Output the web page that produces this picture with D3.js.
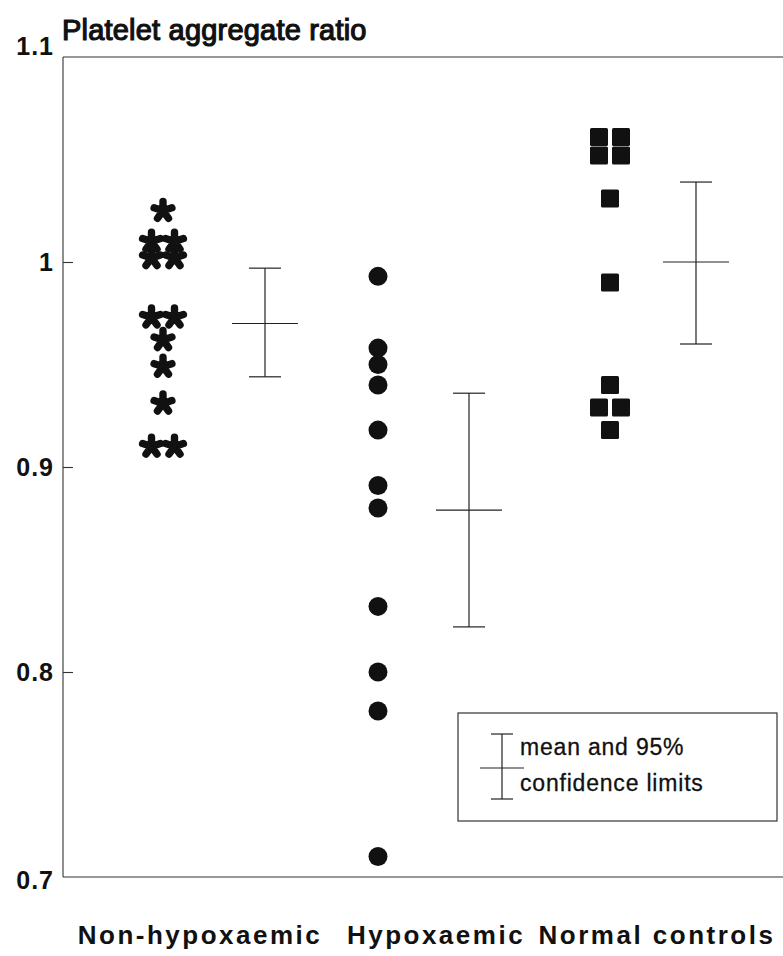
<!DOCTYPE html>
<html>
<head>
<meta charset="utf-8">
<script src="https://cdn.jsdelivr.net/npm/d3@7"></script>
<style>
  html, body { margin: 0; padding: 0; background: #fff; }
  svg { display: block; font-family: "Liberation Sans", Arial, Helvetica, sans-serif; }
</style>
</head>
<body>
<svg id="chart" width="783" height="956"></svg>
<script>
// ---- data ----
const categories = ["Non-hypoxaemic", "Hypoxaemic", "Normal controls"];
const nonHypoxaemic = [1.025, 1.010, 1.010, 1.002, 1.002, 0.973, 0.973, 0.962, 0.949, 0.931, 0.910, 0.910];
const hypoxaemic = [0.993, 0.958, 0.950, 0.940, 0.918, 0.891, 0.880, 0.832, 0.800, 0.781, 0.710];
const normalControls = [1.061, 1.061, 1.052, 1.052, 1.031, 0.990, 0.940, 0.929, 0.929, 0.918];
const ciMean = [0.970, 0.879, 1.000];
const ciLow = [0.944, 0.822, 0.960];
const ciHigh = [0.997, 0.936, 1.039];
const yTicks = [0.7, 0.8, 0.9, 1.0, 1.1];
const titleText = "Platelet aggregate ratio";
const legendLines = ["mean and 95%", "confidence limits"];

// ---- layout ----
const plotL = 63, plotT = 57, plotB = 877, plotR = 783;
const svg = d3.select("#chart");

const y = d3.scaleLinear().domain([0.7, 1.1]).range([plotB, plotT]);
const xPts = d3.scaleOrdinal().domain(categories).range([163, 378, 610]);
const xCI = d3.scaleOrdinal().domain(categories).range([265, 469, 696]);
const xLab = d3.scaleOrdinal().domain(categories).range([200, 436, 657]);

const ink = "#111";

// frame
svg.append("line").attr("x1", plotL).attr("x2", plotL).attr("y1", plotT).attr("y2", plotB)
  .attr("stroke", "#333").attr("stroke-width", 1.1);
svg.append("line").attr("x1", plotL).attr("x2", plotR).attr("y1", plotT).attr("y2", plotT)
  .attr("stroke", "#333").attr("stroke-width", 1.1);
svg.append("line").attr("x1", plotL).attr("x2", plotR).attr("y1", plotB).attr("y2", plotB)
  .attr("stroke", "#333").attr("stroke-width", 1.1);

// axis
const axis = d3.axisLeft(y).tickValues(yTicks).tickSize(-10).tickPadding(9)
  .tickFormat(d => d === 1 ? "1" : d3.format(".1f")(d));
const ag = svg.append("g").attr("transform", `translate(${plotL},0)`).call(axis);
ag.select(".domain").remove();
ag.selectAll(".tick line").attr("stroke", "#333").attr("stroke-width", 1.1);
ag.selectAll(".tick text")
  .attr("fill", ink).attr("font-size", 25).attr("font-weight", "bold")
  .attr("letter-spacing", 1)
  .attr("dy", d => d === 1.1 ? "-0.1em" : (d === 0.7 ? "0.45em" : "0.35em"));
ag.selectAll(".tick").filter(d => d === 1.1 || d === 0.7).select("line").remove();

// title
svg.append("text").attr("x", 62).attr("y", 40).text(titleText)
  .attr("font-size", 29).attr("fill", ink)
  .attr("stroke", ink).attr("stroke-width", 1.2)
  .attr("letter-spacing", 0.2);

// grouping offsets for duplicates
function withOffsets(vals, spacing) {
  const counts = d3.rollup(vals, v => v.length, v => v);
  const seen = new Map();
  return vals.map(v => {
    const n = counts.get(v);
    const i = seen.get(v) || 0;
    seen.set(v, i + 1);
    return { v, dx: (i - (n - 1) / 2) * spacing };
  });
}

// star symbol: 5-arm asterisk
const starType = {
  draw(ctx, size) {
    const r = Math.sqrt(size);
    for (let i = 0; i < 5; i++) {
      const a = (i * 2 * Math.PI) / 5;
      ctx.moveTo(0, 0);
      ctx.lineTo(r * Math.sin(a), -r * Math.cos(a));
    }
  }
};
const starPath = d3.symbol().type(starType).size(88)();

svg.append("g").selectAll("path").data(withOffsets(nonHypoxaemic, 23)).join("path")
  .attr("d", starPath)
  .attr("transform", d => `translate(${xPts(categories[0]) + d.dx},${y(d.v)})`)
  .attr("fill", "none").attr("stroke", ink).attr("stroke-width", 7.4)
  .attr("stroke-linecap", "round").attr("stroke-linejoin", "round");

svg.append("g").selectAll("circle").data(withOffsets(hypoxaemic, 20)).join("circle")
  .attr("cx", d => xPts(categories[1]) + d.dx).attr("cy", d => y(d.v))
  .attr("r", 9.5).attr("fill", ink);

const sq = 18;
svg.append("g").selectAll("rect").data(withOffsets(normalControls, 22)).join("rect")
  .attr("x", d => xPts(categories[2]) + d.dx - sq / 2).attr("y", d => y(d.v) - sq / 2)
  .attr("width", sq).attr("height", sq).attr("rx", 1.5).attr("fill", ink);

// CI glyphs
const ciData = categories.map((c, i) => ({ c, m: ciMean[i], lo: ciLow[i], hi: ciHigh[i] }));
function drawCI(g, cx, yHi, yM, yLo, capW, meanW) {
  const L = (x1, y1, x2, y2) => g.append("line")
    .attr("x1", x1).attr("y1", y1).attr("x2", x2).attr("y2", y2)
    .attr("stroke", "#222").attr("stroke-width", 1.2);
  L(cx, yHi, cx, yLo);
  L(cx - capW / 2, yHi, cx + capW / 2, yHi);
  L(cx - capW / 2, yLo, cx + capW / 2, yLo);
  L(cx - meanW / 2, yM, cx + meanW / 2, yM);
}
const cig = svg.append("g");
ciData.forEach(d => drawCI(cig, xCI(d.c), y(d.hi), y(d.m), y(d.lo), 32, 66));

// legend
const lg = svg.append("g");
lg.append("rect").attr("x", 458).attr("y", 713).attr("width", 319).attr("height", 108)
  .attr("fill", "none").attr("stroke", "#333").attr("stroke-width", 1.2);
drawCI(lg, 502, 734, 768, 799, 22, 44);
legendLines.forEach((t, i) => {
  lg.append("text").attr("x", 520).attr("y", 755 + i * 36).text(t)
    .attr("font-size", 23).attr("letter-spacing", 0.8).attr("fill", ink)
    .attr("stroke", ink).attr("stroke-width", 0.3);
});

// category labels
svg.append("g").selectAll("text").data(categories).join("text")
  .attr("x", d => xLab(d)).attr("y", 944).attr("text-anchor", "middle")
  .text(d => d).attr("font-size", 26).attr("font-weight", "bold")
  .attr("letter-spacing", 2.5).attr("fill", ink);
</script>
</body>
</html>
